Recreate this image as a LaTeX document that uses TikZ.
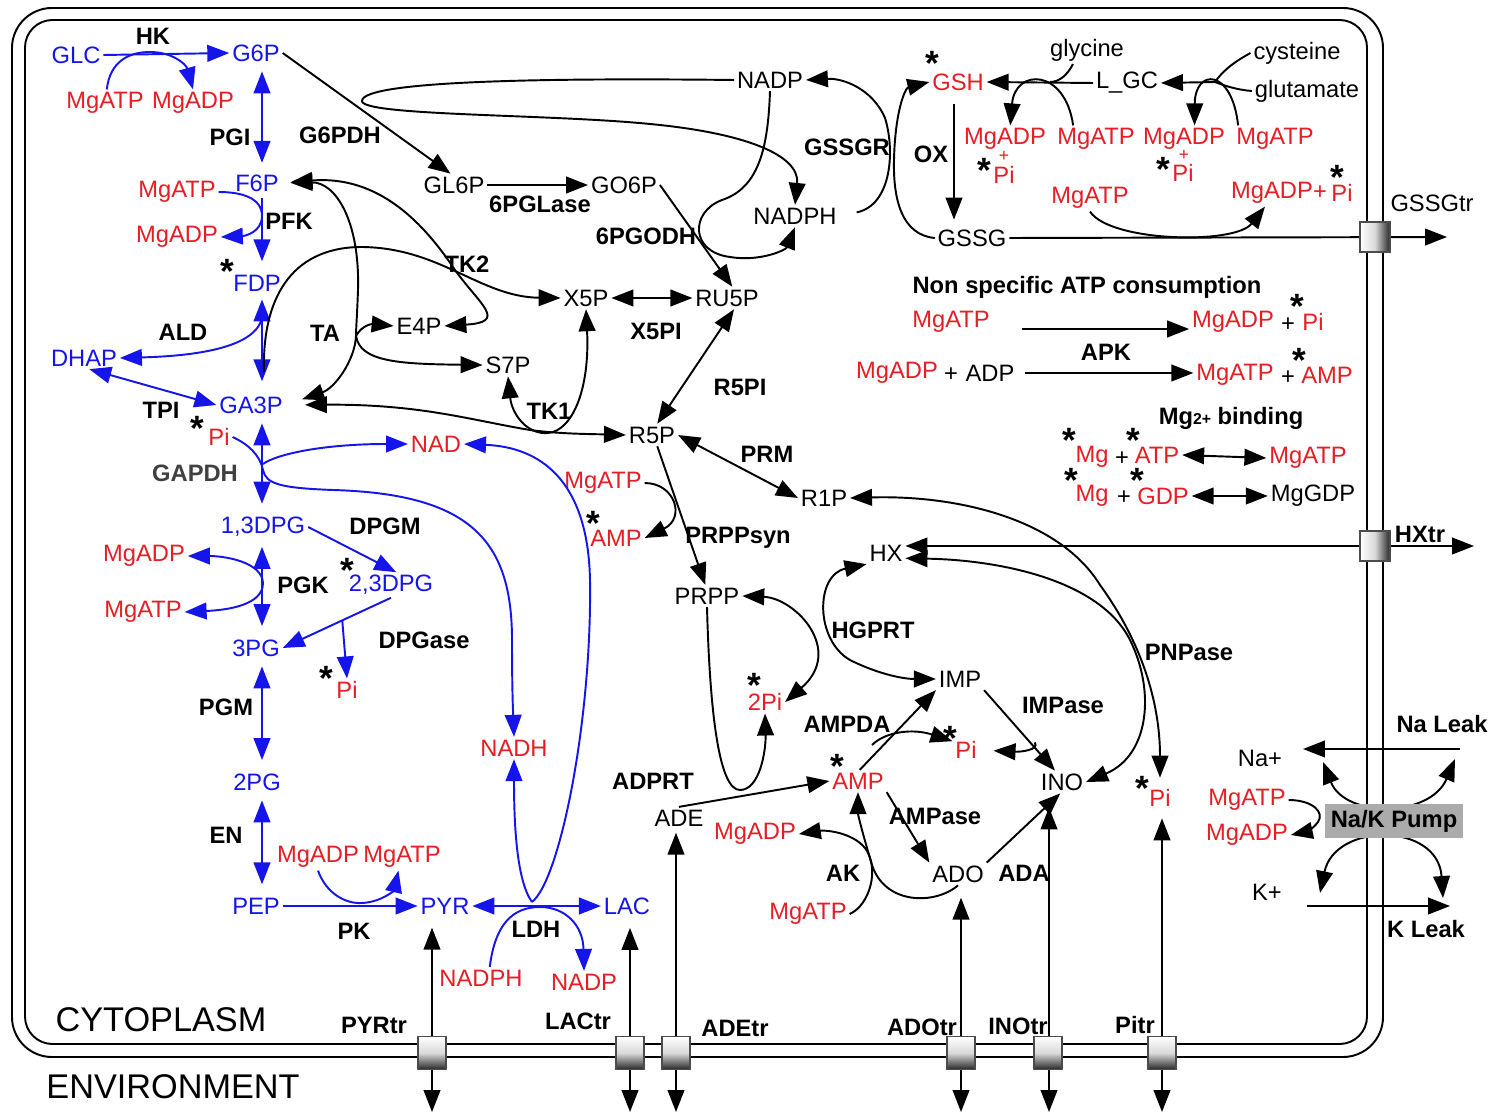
\documentclass[tikz,border=0pt]{standalone}
\usepackage{fontspec}
\setmainfont{Liberation Sans}
\usetikzlibrary{arrows.meta,calc}
\definecolor{rd}{RGB}{228,30,36}
\definecolor{bl}{RGB}{20,20,235}
\definecolor{dg}{RGB}{64,64,64}
\newcommand{\nf}{\fontsize{13.5}{15}\selectfont}
\newcommand{\bgf}{\fontsize{19.5}{22}\selectfont}
\newcommand{\stf}{\fontsize{20}{20}\selectfont\bfseries}
\newcommand{\smf}{\fontsize{10}{10}\selectfont}
\newcommand{\stx}{\raisebox{-0.42em}[0.3em][0pt]{*}}
\begin{document}
\begin{tikzpicture}[x=0.02cm,y=-0.02cm,
 every node/.style={inner sep=1.5pt},
 mk/.style={font=\nf},
 mr/.style={font=\nf,text=rd},
 mb/.style={font=\nf,text=bl},
 ez/.style={font=\nf\bfseries},
 st/.style={font=\stf,inner sep=0pt,yshift=1.9pt},
 pl/.style={font=\smf,inner sep=0pt},
 ln/.style={line width=1.1pt},
 ar/.style={ln,-{Triangle[length=12.5pt,width=9.5pt]}},
 dar/.style={ln,{Triangle[length=12.5pt,width=9.5pt]}-{Triangle[length=12.5pt,width=9.5pt]}},
 bln/.style={ln,color=bl},
 bar/.style={ar,color=bl},
 bdar/.style={dar,color=bl},
 trb/.style={draw=black!70,line width=0.7pt,minimum width=0.56cm,minimum height=0.66cm,inner sep=0pt,top color=white,bottom color=black!85,middle color=black!15},
 trr/.style={draw=black!70,line width=0.7pt,minimum width=0.6cm,minimum height=0.6cm,inner sep=0pt,left color=white,right color=black!85,middle color=black!15},
]
\fill[white] (0,0) rectangle (1491,1114);
\useasboundingbox (0,0) rectangle (1491,1114);
% membrane
\draw[ln,rounded corners=0.8cm] (12,8) rectangle (1383,1057);
\draw[ln,rounded corners=0.55cm] (25,20) rectangle (1367,1044);

% ---------------- glycolysis nodes
\node[mb] (GLC) at (76,55) {GLC};
\node[mb] (G6P) at (256,53) {G6P};
\node[ez] (HK) at (153,36) {HK};
\node[mr] (atpHK) at (105,103) {MgATP};
\node[mr] (adpHK) at (193,103) {MgADP};
\node[ez] (PGI) at (230,137) {PGI};
\node[ez] (G6PDH) at (340,135) {G6PDH};
\node[mb] (F6P) at (257,183) {F6P};
\node[mr] (atpPFK) at (177,192) {MgATP};
\node[ez] (PFK) at (289,221) {PFK};
\node[mr] (adpPFK) at (177,237) {MgADP};
\node[mb] (FDP) at (257,283) {FDP};
\node[st] (sFDP) at (227,267) {\stx};
\node[ez] (ALD) at (183,332) {ALD};
\node[mb] (DHAP) at (84,358) {DHAP};
\node[mb] (GA3P) at (251,405) {GA3P};
\node[ez] (TPI) at (161,410) {TPI};
\node[mr] (PiG) at (219,437) {Pi};
\node[st] (sPiG) at (197,424) {\stx};
\node[ez,text=dg] (GAPDH) at (195,473) {GAPDH};
\node[mr] (NAD) at (436,444) {NAD};
\node[mb] (DPG13) at (263,527) {1,3DPG};
\node[ez] (DPGM) at (385,526) {DPGM};
\node[mr] (adpPGK) at (144,556) {MgADP};
\node[ez] (PGK) at (303,585) {PGK};
\node[mb] (DPG23) at (391,585) {2,3DPG};
\node[st] (sDPG23) at (347,566) {\stx};
\node[mr] (atpPGK) at (143,612) {MgATP};
\node[mb] (PG3) at (256,648) {3PG};
\node[ez] (DPGase) at (424,640) {DPGase};
\node[mr] (PiD) at (347,690) {Pi};
\node[st] (sPiD) at (326,674) {\stx};
\node[ez] (PGM) at (226,707) {PGM};
\node[mr] (NADH) at (514,748) {NADH};
\node[mb] (PG2) at (257,782) {2PG};
\node[ez] (EN) at (226,835) {EN};
\node[mr] (adpPK) at (318,857) {MgADP};
\node[mr] (atpPK) at (402,857) {MgATP};
\node[mb] (PEP) at (256,906) {PEP};
\node[ez] (PK) at (354,931) {PK};
\node[mb] (PYR) at (445,906) {PYR};
\node[ez] (LDH) at (536,929) {LDH};
\node[mb] (LAC) at (627,906) {LAC};
\node[mr] (NADPHl) at (481,978) {NADPH};
\node[mr] (NADPl) at (584,982) {NADP};
\node[font=\bgf] (CYTO) at (161,1020) {CYTOPLASM};
\node[font=\bgf] (ENV) at (173,1087) {ENVIRONMENT};
\node[ez] (PYRtr) at (374,1025) {PYRtr};
\node[ez] (LACtr) at (578,1021) {LACtr};

% ---------------- pentose phosphate / nucleotide nodes
\node[mk] (GL6P) at (454,185) {GL6P};
\node[mk] (GO6P) at (624,185) {GO6P};
\node[ez] (PGLase) at (540,204) {6PGLase};
\node[ez] (PGODH) at (646,236) {6PGODH};
\node[mk] (NADP) at (770,80) {NADP};
\node[mk] (NADPH) at (795,216) {NADPH};
\node[ez] (GSSGR) at (847,147) {GSSGR};
\node[ez] (TK2) at (467,264) {TK2};
\node[mk] (X5P) at (586,298) {X5P};
\node[mk] (RU5P) at (727,298) {RU5P};
\node[ez] (X5PI) at (656,331) {X5PI};
\node[ez] (TA) at (325,333) {TA};
\node[mk] (E4P) at (419,326) {E4P};
\node[mk] (S7P) at (508,365) {S7P};
\node[ez] (R5PI) at (740,387) {R5PI};
\node[ez] (TK1) at (549,411) {TK1};
\node[mk] (R5P) at (652,435) {R5P};
\node[ez] (PRM) at (767,454) {PRM};
\node[mk] (R1P) at (824,498) {R1P};
\node[mr] (atpPRPP) at (603,483) {MgATP};
\node[mr] (ampPRPP) at (616,538) {AMP};
\node[st] (sAMPp) at (593,519) {\stx};
\node[ez] (PRPPsyn) at (738,538) {PRPPsyn};
\node[mk] (PRPP) at (707,596) {PRPP};
\node[mk] (HX) at (886,553) {HX};
\node[ez] (HGPRT) at (873,630) {HGPRT};
\node[mk] (IMP) at (960,679) {IMP};
\node[mr] (Pitwo) at (765,702) {2Pi};
\node[st] (sPitwo) at (754,681) {\stx};
\node[ez] (AMPDA) at (847,724) {AMPDA};
\node[mr] (PiA) at (966,750) {Pi};
\node[st] (sPiA) at (950,734) {\stx};
\node[ez] (IMPase) at (1063,705) {IMPase};
\node[ez] (ADPRT) at (653,781) {ADPRT};
\node[mr] (AMP) at (858,781) {AMP};
\node[st] (sAMP) at (837,762) {\stx};
\node[mk] (INO) at (1062,782) {INO};
\node[mr] (PiP) at (1160,798) {Pi};
\node[st] (sPiP) at (1142,784) {\stx};
\node[ez] (PNPase) at (1189,652) {PNPase};
\node[mk] (ADE) at (679,818) {ADE};
\node[ez] (AMPase) at (935,816) {AMPase};
\node[mr] (adpAK) at (755,834) {MgADP};
\node[ez] (AK) at (843,873) {AK};
\node[mk] (ADO) at (958,874) {ADO};
\node[ez] (ADA) at (1024,873) {ADA};
\node[mr] (atpAK) at (808,914) {MgATP};
\node[ez] (ADEtr) at (735,1028) {ADEtr};
\node[ez] (ADOtr) at (922,1027) {ADOtr};
\node[ez] (INOtr) at (1018,1026) {INOtr};
\node[ez] (Pitr) at (1135,1025) {Pitr};

% ---------------- glutathione nodes
\node[mr] (GSH) at (958,82) {GSH};
\node[st] (sGSH) at (932,59) {\stx};
\node[mk] (glycine) at (1087,50) {glycine};
\node[mk] (LGC) at (1127,83) {L\_GC};
\node[mk] (cysteine) at (1297,53) {cysteine};
\node[mk] (glutamate) at (1307,91) {glutamate};
\node[ez] (OX) at (931,154) {OX};
\node[mr] (adpG1) at (1005,139) {MgADP};
\node[pl,text=rd] (plG1) at (1004,156) {+};
\node[mr] (PiG1) at (1004,175) {Pi};
\node[st] (sPiG1) at (984,166) {\stx};
\node[mr] (atpG1) at (1096,139) {MgATP};
\node[mr] (adpG2) at (1184,139) {MgADP};
\node[pl,text=rd] (plG2) at (1184,155) {+};
\node[mr] (PiG2) at (1183,173) {Pi};
\node[st] (sPiG2) at (1163,165) {\stx};
\node[mr] (atpG2) at (1275,139) {MgATP};
\node[mr] (atpG3) at (1090,198) {MgATP};
\node[mr] (adpG3) at (1272,193) {MgADP};
\node[mr] (plG3) at (1320,193) {+};
\node[mr] (PiG3) at (1342,193) {Pi};
\node[st] (sPiG3) at (1337,173) {\stx};
\node[mk] (GSSG) at (972,238) {GSSG};
\node[mk] (GSSGtr) at (1432,203) {GSSGtr};

% ---------------- right panel nodes
\node[ez] (NSAC) at (1087,287) {Non specific ATP consumption};
\node[mr] (atpNS) at (951,322) {MgATP};
\node[mr] (adpNS) at (1233,322) {MgADP};
\node[mk] (plNS) at (1288,325) {+};
\node[mr] (PiNS) at (1313,322) {Pi};
\node[st] (sPiNS) at (1297,302) {\stx};
\node[ez] (APK) at (1106,352) {APK};
\node[mr] (adpAPK) at (897,373) {MgADP};
\node[mk] (plAPK) at (951,375) {+};
\node[mk] (ADP) at (990,373) {ADP};
\node[mr] (atpAPK) at (1235,375) {MgATP};
\node[mk] (plAPK2) at (1288,378) {+};
\node[mr] (AMPn) at (1327,375) {AMP};
\node[st] (sAMPn) at (1299,356) {\stx};
\node[ez] (Mgb) at (1231,418) {Mg{\fontsize{9}{9}\selectfont 2+} binding};
\node[mr] (Mg1) at (1092,457) {Mg};
\node[st] (sMg1) at (1069,436) {\stx};
\node[mk] (plMg1) at (1122,459) {+};
\node[mr] (ATP1) at (1157,455) {ATP};
\node[st] (sATP1) at (1133,436) {\stx};
\node[mr] (MgATPb) at (1308,458) {MgATP};
\node[mr] (Mg2) at (1092,496) {Mg};
\node[st] (sMg2) at (1071,476) {\stx};
\node[mk] (plMg2) at (1124,498) {+};
\node[mr] (GDP) at (1163,496) {GDP};
\node[st] (sGDP) at (1137,476) {\stx};
\node[mk] (MgGDP) at (1313,496) {MgGDP};
\node[ez] (HXtr) at (1420,534) {HXtr};
\node[ez] (NaLeak) at (1442,724) {Na Leak};
\node[mk] (Na) at (1260,758) {Na+};
\node[mr] (atpNa) at (1247,800) {MgATP};
\node[mr] (adpNa) at (1247,835) {MgADP};
\node[mk] (Kp) at (1267,892) {K+};
\node[ez] (KLeak) at (1426,929) {K Leak};

% ---------------- coordinates
\coordinate (col) at (262,0);
\coordinate (pyrb) at (432,1112);
\coordinate (lacb) at (630,1112);
\coordinate (adeb) at (676,1112);
\coordinate (adob) at (961,1112);
\coordinate (inob) at (1049,1112);
\coordinate (pib) at (1162,1112);
\coordinate (gssgend) at (1447,237);
\coordinate (hxend) at (1474,546);
\coordinate (oxc) at (954,0);

% ---------------- glycolysis edges (blue)
\draw[bar] (GLC.east) -- (G6P.west);
\draw[bar] ([xshift=1pt]atpHK.north) .. controls (110,62) and (128,52) .. (150,52) .. controls (172,52) and (186,64) .. (adpHK.north);
\draw[bdar,shorten <=4pt,shorten >=5pt] (G6P.south -| col) -- (F6P.north -| col);
\coordinate (pfkj) at (262,216);
\draw[bln] (atpPFK.east) .. controls (242,192) and (262,198) .. (pfkj);
\draw[bar] (pfkj) .. controls (262,232) and (245,236) .. (adpPFK.east);
\draw[bar,shorten <=2pt,shorten >=6pt] (F6P.south -| col) -- (FDP.north -| col);
\draw[bdar,shorten <=3pt,shorten >=7pt] (FDP.south -| col) -- (GA3P.north -| col);
\coordinate (aldj) at (262,318);
\draw[bar] (aldj) .. controls (255,348) and (195,356) .. (DHAP.east);
\draw[bdar] ([xshift=3pt]DHAP.south) -- (GA3P.west);
\draw[bdar,shorten <=4pt,shorten >=6pt] (GA3P.south -| col) -- (DPG13.north -| col);
\coordinate (gj1) at (263,470);
\coordinate (gj2) at (263,464);
\draw[bln] (PiG.east) .. controls (248,444) and (260,455) .. (gj1);
\draw[bar] (gj1) .. controls (266,484) and (280,488) .. (333,490) .. controls (470,494) and (512,540) .. (512,640) .. controls (512,690) and (513,710) .. (NADH.north);
\draw[bar] (gj2) .. controls (275,455) and (320,444) .. (NAD.west);
\draw[bar] (DPG13.east) -- ([xshift=3pt]DPG23.north);
\draw[bdar,shorten <=4pt,shorten >=6pt] (DPG13.south -| col) -- (PG3.north -| col);
\coordinate (pgkj) at (263,583);
\draw[bar] (pgkj) .. controls (262,562) and (225,556) .. (adpPGK.east);
\draw[bar] (pgkj) .. controls (263,605) and (228,610) .. (atpPGK.east);
\draw[bar] (DPG23.south) -- (PG3.east);
\draw[bar] ($(DPG23.south)!0.45!(PG3.east)$) -- (PiD.north);
\draw[bdar,shorten <=4pt,shorten >=6pt] (PG3.south -| col) -- (PG2.north -| col);
\draw[bdar,shorten <=4pt,shorten >=6pt] (PG2.south -| col) -- (PEP.north -| col);
\draw[bar] (PEP.east) -- (PYR.west);
\draw[bar] (adpPK.south) .. controls (326,893) and (345,904) .. (362,903) .. controls (382,902) and (394,890) .. ([xshift=-2pt]atpPK.south);
\draw[bdar] (PYR.east) -- (LAC.west);
\coordinate (uj) at (532,902);
\draw[bar] (uj) .. controls (516,880) and (514,820) .. (NADH.south);
\draw[bar] (uj) .. controls (560,880) and (592,720) .. (590,580) .. controls (588,480) and (540,447) .. (NAD.east);
\draw[bar] ([xshift=5pt]NADPHl.north) .. controls (495,925) and (512,907) .. (540,907) .. controls (565,907) and (583,925) .. (NADPl.north);

% transport verticals
\draw[dar,shorten <=6pt] (PYR.south -| pyrb) -- (pyrb);
\draw[dar,shorten <=6pt] (LAC.south -| lacb) -- (lacb);
\draw[dar,shorten <=2pt] (ADE.south -| adeb) -- (adeb);
\draw[dar,shorten <=7pt] (ADO.south -| adob) -- (adob);
\draw[dar,shorten <=8pt] (INO.south -| inob) -- (inob);
\draw[dar,shorten <=5pt] (PiP.south -| pib) -- (pib);

% ---------------- PPP edges
\draw[ar] (G6P.east) -- ([xshift=-2pt]GL6P.north);
\coordinate (tp) at (362,101);
\draw[ar] (NADP.west) .. controls (560,78) and (362,80) .. (tp) .. controls (362,116) and (550,114) .. (650,124) .. controls (745,133) and (800,155) .. (NADPH.north);
\draw[ar] (GL6P.east) -- (GO6P.west);
\draw[ar] (GO6P.east) -- ([xshift=3pt]RU5P.north);
\draw[ar] (NADP.south) .. controls (768,150) and (758,188) .. (722,200) .. controls (690,212) and (690,252) .. (730,257) .. controls (760,262) and (786,250) .. (NADPH.south);
\draw[ar,shorten <=10pt] (NADPH.east) .. controls (892,205) and (895,150) .. (885,118) .. controls (872,88) and (842,78) .. (NADP.east);
\draw[ar] (GSSG.west) .. controls (902,235) and (893,200) .. (894,160) .. controls (895,112) and (905,88) .. (GSH.west);
\draw[ar,shorten <=6pt,shorten >=4pt] (GSH.south -| oxc) -- (GSSG.north -| oxc);
\draw[ar] (LGC.west) -- (GSH.east);
\coordinate (glyj) at (1050,82);
\draw[ln] ([xshift=-8pt]glycine.south) .. controls (1068,74) and (1060,82) .. (glyj);
\coordinate (cgj) at (1215,82);
\draw[ar] (cgj) -- (LGC.east);
\draw[ln] (cysteine.west) .. controls (1232,63) and (1222,72) .. (cgj);
\draw[ln] (glutamate.west) .. controls (1238,90) and (1225,86) .. (cgj);
\draw[ar] ([xshift=-13pt]atpG1.north) .. controls (1065,68) and (1015,68) .. ([xshift=3pt]adpG1.north);
\draw[ar] ([xshift=-21pt]atpG2.north) .. controls (1232,68) and (1195,68) .. ([xshift=6pt]adpG2.north);
\draw[ar] (GSSG.east) -- (gssgend);
\draw[ar] (atpG3.south) .. controls (1110,242) and (1235,245) .. ([xshift=-4pt]adpG3.south);

% TK2, TA, TK1
\coordinate (tk2s) at (264,372);
\draw[ar] (tk2s) .. controls (262,300) and (290,248) .. (360,247) .. controls (440,247) and (480,297) .. (X5P.west);
\draw[dar,shorten <=5pt] (F6P.east) .. controls (380,175) and (425,225) .. (455,270) .. controls (480,305) and (508,322) .. (E4P.east);
\coordinate (taj) at (356,336);
\draw[dar,shorten <=5pt,shorten >=10pt] (F6P.east) .. controls (335,182) and (360,220) .. (358,290) .. controls (357,318) and (356,328) .. (taj) .. controls (355,360) and (335,388) .. (GA3P.east);
\draw[ar] (taj) .. controls (362,325) and (372,324) .. (E4P.west);
\draw[ar] (taj) .. controls (360,362) and (400,364) .. (S7P.west);
\draw[dar,shorten <=11pt] (GA3P.east) .. controls (420,404) and (470,420) .. (530,430) .. controls (560,434) and (590,434) .. (R5P.west);
\draw[dar] (S7P.south) .. controls (512,415) and (528,435) .. (548,433) .. controls (572,431) and (590,390) .. (X5P.south);
\draw[dar] (X5P.east) -- (RU5P.west);
\draw[dar] ([xshift=4pt]RU5P.south) -- ([xshift=3pt]R5P.north);
\draw[dar] (R5P.east) -- (R1P.west);
\draw[ar] ([xshift=3pt]R5P.south) -- ([xshift=-1pt]PRPP.north);
\draw[ar] (atpPRPP.east) .. controls (675,483) and (686,518) .. (ampPRPP.east);

% nucleotide edges
\draw[dar,shorten >=5pt] (R1P.east) .. controls (960,495) and (1060,520) .. (1100,585) .. controls (1140,640) and (1160,700) .. (PiP.north);
\draw[dar] (HX.east |- hxend) -- (hxend);
\draw[dar] ([yshift=-3pt]HX.east) .. controls (1000,560) and (1100,580) .. (1130,640) .. controls (1155,690) and (1150,755) .. (INO.east);
\draw[dar] (HX.south west) .. controls (815,575) and (815,640) .. (850,660) .. controls (880,675) and (905,679) .. (IMP.west);
\draw[dar] (PRPP.east) .. controls (795,598) and (845,650) .. (Pitwo.east);
\draw[ar] (ADE.north) -- (AMP.west);
\draw[ar] (PRPP.south) .. controls (710,720) and (720,790) .. (740,790) .. controls (760,790) and (766,750) .. (Pitwo.south);
\draw[ar] ([xshift=1pt]AMP.north) -- (IMP.south west);
\coordinate (ampdaj) at (872,745);
\draw[ar] (ampdaj) .. controls (885,732) and (912,728) .. ([yshift=5pt]PiA.west);
\draw[ar] (IMP.south east) -- ([xshift=-4pt]INO.north);
\draw[ar,shorten >=8pt] ($(IMP.south east)!0.65!(INO.north)$) .. controls (1040,750) and (1020,752) .. (PiA.east);
\draw[ar] (AMP.south east) -- (ADO.north west);
\draw[ar] (ADO.south) .. controls (935,905) and (885,905) .. (872,865) .. controls (863,835) and (858,815) .. (AMP.south);
\draw[ar] (atpAK.east) .. controls (870,905) and (880,868) .. (865,848) .. controls (852,832) and (825,830) .. (adpAK.east);
\draw[ar] (ADO.north east) -- ([xshift=-1pt]INO.south);

% right panel edges
\coordinate (nsa) at (1022,329);
\draw[ar] (nsa) -- (adpNS.west |- nsa);
\coordinate (apka) at (1025,373);
\draw[ar] (apka) -- (atpAPK.west |- apka);
\draw[dar] (ATP1.east) -- (MgATPb.west);
\draw[dar] (GDP.east) -- (MgGDP.west);
\coordinate (naA) at (1460,749);
\coordinate (naB) at (1303,749);
\draw[ar] (naA) -- (naB);
\coordinate (na1) at (1323,762);
\coordinate (na2) at (1455,759);
\draw[dar] (na1) .. controls (1345,818) and (1430,818) .. (na2);
\coordinate (k1) at (1320,893);
\coordinate (k2) at (1443,898);
\draw[dar] (k1) .. controls (1335,822) and (1438,822) .. (k2);
\coordinate (kA) at (1307,906);
\coordinate (kB) at (1450,906);
\draw[ar] (kA) -- (kB);
\draw[ar] (atpNa.east) .. controls (1312,800) and (1325,812) .. (1318,822) .. controls (1312,830) and (1305,832) .. (adpNa.east);

% transporters and pump
\node[trr] (trGSSG) at (1375,237) {};
\node[trr] (trHX) at (1375,546) {};
\node[trb] (trPYR) at (432,1053) {};
\node[trb] (trLAC) at (630,1053) {};
\node[trb] (trADE) at (676,1053) {};
\node[trb] (trADO) at (961,1053) {};
\node[trb] (trINO) at (1048,1053) {};
\node[trb] (trPi) at (1162,1053) {};
\node[fill=black!33,minimum width=2.76cm,minimum height=0.7cm,inner sep=0pt,font=\nf\bfseries] (pump) at (1394,821) {Na/K Pump};
\end{tikzpicture}
\end{document}
